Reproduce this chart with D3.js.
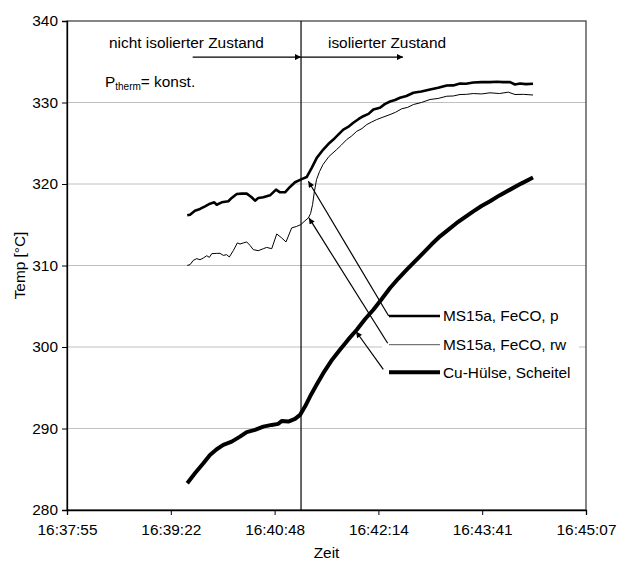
<!DOCTYPE html>
<html><head><meta charset="utf-8">
<script src="https://cdn.jsdelivr.net/npm/d3@7"></script>
<style>
body{margin:0;background:#fff;}
svg{display:block;font-family:"Liberation Sans",Arial,sans-serif;}
</style></head>
<body><svg id="chart" width="617" height="563"></svg>
<script>
// time in seconds after 16:37:55, temperature in °C
const xTickLabels = ["16:37:55","16:39:22","16:40:48","16:42:14","16:43:41","16:45:07"];
const xTickValues = [0, 86.4, 172.8, 259.2, 345.6, 432];
const yTickValues = [280, 290, 300, 310, 320, 330, 340];
const seriesNames = ["MS15a, FeCO, p", "MS15a, FeCO, rw", "Cu-Hülse, Scheitel"];

const pSeries = [
[100.1,316.16],[102.4,316.24],[106.5,316.73],[110.7,316.94],[114.9,317.26],[119.0,317.59],[122.6,317.75],
[124.6,317.46],[128.8,317.75],[134.3,317.88],[137.1,318.29],[141.3,318.78],[145.4,318.82],[149.6,318.82],
[153.7,318.37],[156.5,317.96],[159.2,318.29],[163.4,318.37],[169.0,318.61],[174.0,319.31],[177.3,318.98],
[181.5,318.98],[185.6,319.64],[189.8,320.21],[195.4,320.6],[199.5,320.85],[203.7,321.98],[207.9,323.21],
[213.3,324.23],[217.5,324.9],[221.7,325.45],[226.0,326.1],[230.0,326.68],[234.0,327.0],[238.3,327.51],
[242.5,327.95],[246.6,328.32],[251.0,328.6],[255.0,329.14],[260.5,329.35],[264.5,329.8],[268.9,330.12],
[273.0,330.3],[277.2,330.58],[282.5,330.8],[288.3,331.19],[295.0,331.35],[302.2,331.6],[309.0,331.8],
[316.1,332.09],[321.5,332.1],[327.1,332.33],[332.0,332.3],[338.2,332.46],[345.0,332.5],[352.1,332.5],
[358.0,332.55],[363.0,332.5],[368.8,332.5],[372.9,332.21],[377.1,332.33],[382.0,332.25],[387.9,332.3]
];
const rwSeries = [
[100.1,310.01],[102.4,310.1],[105.1,310.63],[108.0,310.84],[110.7,310.71],[113.5,310.92],[116.3,311.2],
[118.5,311.0],[120.5,311.45],[124.6,311.49],[127.4,311.49],[130.1,311.24],[132.9,311.33],[135.1,311.04],
[138.4,311.82],[141.8,312.77],[144.0,312.64],[146.8,312.77],[149.6,312.89],[152.3,312.47],[155.1,311.94],
[159.2,311.82],[163.4,312.06],[166.2,312.22],[170.4,312.06],[174.6,313.87],[178.7,313.38],[182.3,312.89],
[187.0,314.61],[191.2,314.8],[194.5,315.01],[197.3,315.38],[200.9,315.84],[202.7,316.36],[204.4,317.47],
[205.9,319.06],[207.7,320.54],[210.2,321.53],[213.1,322.39],[218.0,323.37],[224.5,324.23],[228.5,324.8],
[232.8,325.45],[237.0,325.9],[241.2,326.47],[245.5,326.8],[249.5,327.29],[253.5,327.6],[257.8,327.91],
[263.0,328.2],[268.9,328.52],[273.5,328.8],[278.6,329.23],[283.5,329.4],[288.3,329.75],[295.0,330.0],
[302.2,330.37],[309.0,330.5],[316.1,330.77],[321.5,330.8],[327.1,330.98],[332.5,331.0],[338.2,331.1],
[345.0,331.05],[352.1,331.19],[360.0,331.1],[367.3,331.27],[372.9,330.98],[380.0,331.0],[387.9,330.92]
];
const cuSeries = [
[100.1,283.29],[106.5,284.51],[113.5,285.74],[119.0,286.76],[124.6,287.46],[130.1,287.99],[137.1,288.39],
[144.0,289.0],[149.6,289.55],[156.5,289.83],[163.4,290.23],[170.4,290.44],[175.9,290.57],[178.7,290.93],
[184.2,290.85],[189.8,291.18],[194.0,291.67],[198.1,292.69],[202.3,293.92],[207.5,295.3],[213.3,296.79],
[220.0,298.3],[227.2,299.66],[234.0,300.9],[241.2,302.11],[248.0,303.4],[255.0,304.57],[262.0,305.9],
[268.9,307.24],[275.8,308.4],[282.8,309.48],[289.6,310.5],[296.6,311.54],[303.5,312.6],[310.5,313.58],
[317.5,314.4],[324.4,315.22],[331.3,315.95],[338.2,316.65],[345.0,317.3],[352.1,317.88],[360.0,318.6],
[368.8,319.31],[378.0,320.05],[387.9,320.79]
];
// annotation anchors (data coordinates)
const switchTime = 194.8;
const arrowTips = [[200.9,320.33],[201.4,315.84],[240.6,301.9]];
const topArrows = [[104.6,194.8],[194.8,279.7]];
const topArrowTemp = 335.57;

const svg = d3.select("#chart");
const L=67, T=21, R=586, B=510;
const x = d3.scaleLinear().domain([0,432]).range([L,R]);
const y = d3.scaleLinear().domain([280,340]).range([B,T]);
const font = 15.4;

// defs
svg.append("defs").append("marker").attr("id","ah")
  .attr("viewBox","0 0 10 10").attr("refX",10).attr("refY",5)
  .attr("markerWidth",8).attr("markerHeight",6).attr("markerUnits","userSpaceOnUse")
  .attr("orient","auto").append("path").attr("d","M0,0L10,5L0,10z").attr("fill","#000");

// gridlines
svg.append("g").selectAll("line").data(yTickValues.slice(1,-1)).join("line")
  .attr("x1",L).attr("x2",R).attr("y1",d=>y(d)).attr("y2",d=>y(d))
  .attr("stroke","#c0c0c0").attr("stroke-width",1);

// plot frame
svg.append("rect").attr("x",L).attr("y",T).attr("width",R-L).attr("height",B-T)
  .attr("fill","none").attr("stroke","#444").attr("stroke-width",1.3);

// legend background
svg.append("rect").attr("x",382).attr("y",300).attr("width",197).attr("height",88).attr("fill","#fff");

// axes
const yAxis = svg.append("g").attr("transform",`translate(${L},0)`)
  .call(d3.axisLeft(y).tickValues(yTickValues).tickSize(5).tickPadding(4).tickFormat(d3.format("d")));
const xAxis = svg.append("g").attr("transform",`translate(0,${B})`)
  .call(d3.axisBottom(x).tickValues(xTickValues).tickSize(5).tickPadding(9)
  .tickFormat((d,i)=>xTickLabels[i]));
[yAxis,xAxis].forEach(a=>{
  a.selectAll("text").attr("font-size",font).attr("font-family","Liberation Sans, Arial, sans-serif").attr("fill","#000");
  a.select(".domain").attr("stroke","#000").attr("stroke-width",1.3);
  a.selectAll(".tick line").attr("stroke","#000");
});

// switch line
svg.append("line").attr("x1",x(switchTime)).attr("x2",x(switchTime)).attr("y1",T).attr("y2",B)
  .attr("stroke","#000").attr("stroke-width",1.2);

// series
const line = d3.line().x(d=>x(d[0])).y(d=>y(d[1]));
const series = [
  {data:pSeries, w:2.6},
  {data:rwSeries, w:1},
  {data:cuSeries, w:4}
];
series.forEach(s=>{
  svg.append("path").datum(s.data).attr("d",line).attr("fill","none")
    .attr("stroke","#000").attr("stroke-width",s.w).attr("stroke-linejoin","round");
});

// legend
const legY = [316, 344.7, 372.3];
const legX1 = 389, legX2 = 440;
series.forEach((s,i)=>{
  svg.append("line").attr("x1",legX1).attr("x2",legX2).attr("y1",legY[i]).attr("y2",legY[i])
    .attr("stroke",i===1?"#555":"#000").attr("stroke-width",s.w);
  svg.append("text").attr("x",443).attr("y",legY[i]).attr("dy","0.35em")
    .attr("font-size",font).text(seriesNames[i]);
});
// arrows from legend to curves
const arrowStarts = [[388.7,316],[387.7,343.3],[383.3,369.3]];
arrowTips.forEach((tp,i)=>{
  svg.append("line").attr("x1",arrowStarts[i][0]).attr("y1",arrowStarts[i][1])
    .attr("x2",x(tp[0])).attr("y2",y(tp[1]))
    .attr("stroke","#000").attr("stroke-width",1.2).attr("marker-end","url(#ah)");
});

// top annotation arrows
topArrows.forEach(a=>{
  svg.append("line").attr("x1",x(a[0])).attr("x2",x(a[1])).attr("y1",y(topArrowTemp)).attr("y2",y(topArrowTemp))
    .attr("stroke","#000").attr("stroke-width",1.2).attr("marker-end","url(#ah)");
});
svg.append("text").attr("x",109).attr("y",48).attr("font-size",font).text("nicht isolierter Zustand");
svg.append("text").attr("x",328).attr("y",48).attr("font-size",font).text("isolierter Zustand");
const pt = svg.append("text").attr("x",105).attr("y",87).attr("font-size",font);
pt.append("tspan").text("P");
pt.append("tspan").attr("font-size",10).attr("dy",3).text("therm");
pt.append("tspan").attr("dy",-3).text("= konst.");

// axis titles
svg.append("text").attr("x",(L+R)/2).attr("y",558).attr("text-anchor","middle").attr("font-size",font).text("Zeit");
svg.append("text").attr("transform",`translate(25,${(T+B)/2}) rotate(-90)`).attr("text-anchor","middle")
  .attr("font-size",font).text("Temp [°C]");
</script></body></html>
